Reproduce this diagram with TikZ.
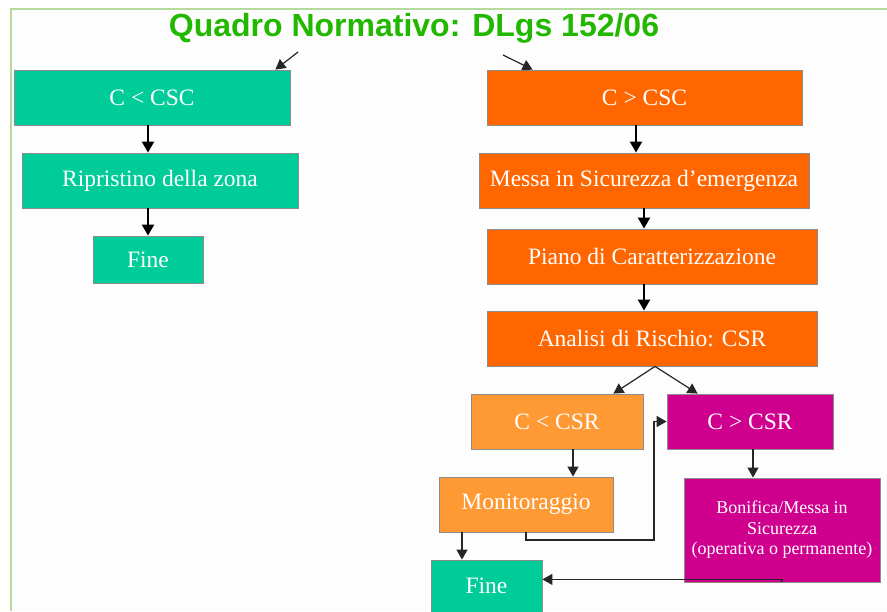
\documentclass[tikz,border=0pt]{standalone}
\usepackage{fontspec}
\setmainfont{Liberation Serif}
\newfontfamily\titlefont{Liberation Sans}
\usetikzlibrary{arrows.meta}
\definecolor{cgreen}{HTML}{00CC99}
\definecolor{corange}{HTML}{FF6600}
\definecolor{clorange}{HTML}{FF9933}
\definecolor{cmag}{HTML}{D0008F}
\definecolor{ctitle}{HTML}{22B800}
\definecolor{cframe}{HTML}{B5DA9C}
\definecolor{cbg}{HTML}{FDFDFD}
\tikzset{
  x=1pt, y=-1pt,
  box/.style={draw=black!45, line width=0.8pt, text=white, font=\fontsize{23.5}{26}\selectfont, inner sep=2pt, align=center},
  arr/.style={line width=2pt, -{Triangle[length=11pt,width=12pt]}},
  thin arr/.style={draw=black!85, line width=1.2pt, -{Triangle[length=10pt,width=11pt]}},
}
\begin{document}
\begin{tikzpicture}
\useasboundingbox (0,0) rectangle (887,611);
\fill[white] (0,0) rectangle (887,611);
\fill[cbg] (12,10) rectangle (887,611);
\draw[cframe, line width=2pt] (11,611) -- (11,9) -- (887,9);

\node[font=\titlefont\bfseries\fontsize{32}{34}\selectfont, text=ctitle] (title) at (414,28) {Quadro Normativo: DLgs 152/06};

% left column
\node[box, fill=cgreen, minimum width=276pt, minimum height=55pt] (csc) at (152,97.5) {C {<} CSC};
\node[box, fill=cgreen, minimum width=276pt, minimum height=55pt] (rip) at (160,180.5) {Ripristino della zona};
\node[box, fill=cgreen, minimum width=110pt, minimum height=47pt] (fine1) at (148,259.5) {Fine};

% right column
\node[box, fill=corange, minimum width=315pt, minimum height=55pt] (gcsc) at (644.5,97.5) {C {>} CSC};
\node[box, fill=corange, minimum width=330pt, minimum height=55pt] (messa) at (644,180.5) {Messa in Sicurezza d’emergenza};
\node[box, fill=corange, minimum width=330pt, minimum height=55pt] (piano) at (652,256.5) {Piano di Caratterizzazione};
\node[box, fill=corange, minimum width=330pt, minimum height=55pt] (analisi) at (652,338.5) {Analisi di Rischio: CSR};

\node[box, fill=clorange, minimum width=172pt, minimum height=55pt] (lcsr) at (557,421.5) {C {<} CSR};
\node[box, fill=cmag, minimum width=166pt, minimum height=55pt] (gcsr) at (750,421.5) {C {>} CSR};
\node[box, fill=clorange, minimum width=174pt, minimum height=55pt] (mon) at (526,504.5) {Monitoraggio};
\node[box, fill=cmag, minimum width=196pt, minimum height=104pt, font=\fontsize{18}{20.5}\selectfont] (bon) at (782,530) {Bonifica/Messa in\\Sicurezza\\(operativa o permanente)};
\node[box, fill=cgreen, minimum width=111pt, minimum height=52pt] (fine2) at (486.5,586) {Fine};

% title arrows
\coordinate (tl) at (298,52);
\coordinate (tr) at (503,55);
\draw[thin arr] (tl) -- ([xshift=-15pt]csc.north east);
\draw[thin arr] (tr) -- ([xshift=46pt]gcsc.north west);

% left arrows
\draw[arr] (csc.south -| fine1.north) -- (rip.north -| fine1.north);
\draw[arr] (fine1.north |- rip.south) -- (fine1.north);

% right arrows
\draw[arr] ([xshift=-8.5pt]gcsc.south) -- ([xshift=-8.5pt]gcsc.south |- messa.north);
\draw[arr] (messa.south) -- (messa.south |- piano.north);
\draw[arr] ([xshift=-8pt]piano.south) -- ([xshift=-8pt]piano.south |- analisi.north);
\draw[thin arr] ([xshift=3pt]analisi.south) -- ([xshift=-30pt]lcsr.north east);
\draw[thin arr] ([xshift=3pt]analisi.south) -- ([xshift=31pt]gcsr.north west);
\draw[thin arr] ([xshift=16pt]lcsr.south) -- ([xshift=16pt]lcsr.south |- mon.north);
\draw[thin arr] ([xshift=3pt]gcsr.south) -- ([xshift=3pt]gcsr.south |- bon.north);
\draw[thin arr] ([xshift=-64pt]mon.south) -- ([xshift=-64pt]mon.south |- fine2.north);
\coordinate (loop) at (654,540);
\draw[thin arr] (mon.south) -- (mon.south |- loop) -- (loop) -- (loop |- gcsr.west) -- (gcsr.west);
\draw[thin arr] (bon.south) -- ([yshift=3pt]bon.south) -- ([yshift=3pt]bon.south -| fine2.east);
\end{tikzpicture}
\end{document}
